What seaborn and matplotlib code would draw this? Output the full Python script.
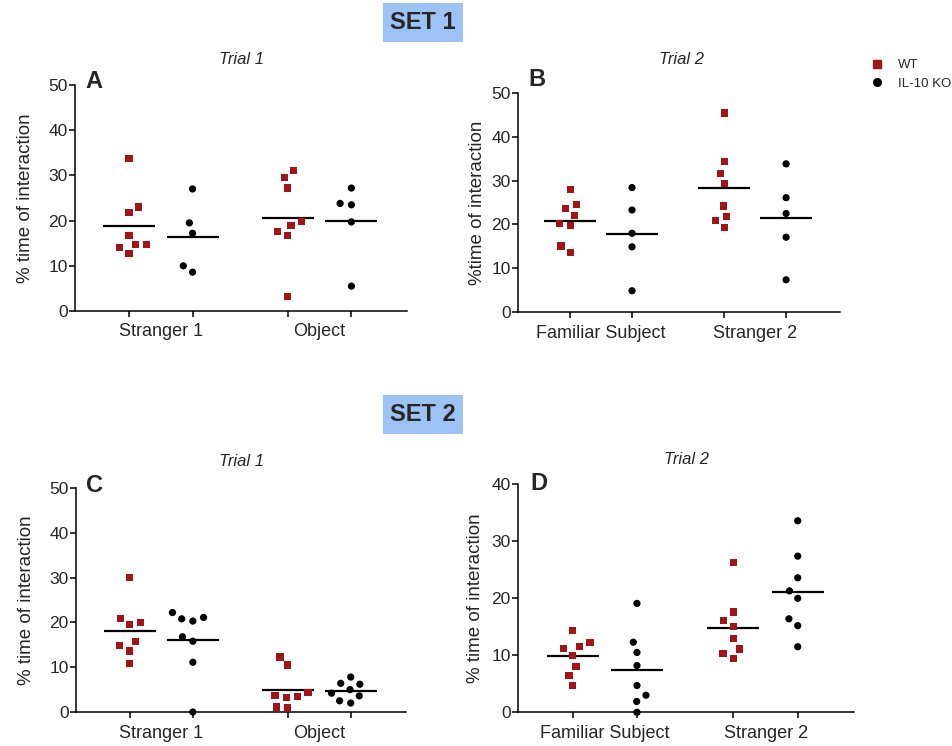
import numpy as np
import pandas as pd
import matplotlib
matplotlib.use("Agg")
import matplotlib.pyplot as plt
from matplotlib.lines import Line2D
from matplotlib.patches import Rectangle
import seaborn as sns

sns.set_theme(style="ticks")
plt.rcParams["font.family"] = ["Liberation Sans", "DejaVu Sans"]

genotypes = ["WT", "IL-10 KO"]
colors = {"WT": "#a31418", "IL-10 KO": "#000000"}

# ---- SET 1, Trial 1 (panel A)
a_cats = ["Stranger 1", "Object"]
a_wt = [[33.7, 23.0, 21.8, 16.7, 14.7, 14.0, 14.7, 12.7],
        [31.0, 29.5, 27.2, 19.8, 19.0, 17.6, 16.7, 3.2]]
a_ko = [[27.0, 19.5, 17.2, 10.0, 8.6],
        [27.2, 23.8, 23.5, 19.7, 5.5]]

# ---- SET 1, Trial 2 (panel B)
b_cats = ["Familiar Subject", "Stranger 2"]
b_wt = [[27.9, 24.6, 23.6, 22.0, 20.2, 19.7, 15.1, 13.7],
        [45.4, 34.3, 31.6, 29.3, 24.2, 21.8, 20.9, 19.3]]
b_ko = [[28.4, 23.3, 18.0, 14.9, 4.9],
        [33.8, 26.1, 22.5, 17.1, 7.4]]

# ---- SET 2, Trial 1 (panel C)
c_cats = ["Stranger 1", "Object"]
c_wt = [[30.1, 20.9, 20.0, 19.5, 15.7, 14.8, 13.6, 10.9],
        [12.3, 10.5, 4.4, 3.5, 3.3, 3.6, 0.9, 1.1]]
c_ko = [[22.2, 21.1, 20.8, 20.3, 16.8, 15.8, 11.1, 0.0],
        [7.8, 6.2, 6.4, 5.0, 3.6, 4.2, 2.0, 2.5]]

# ---- SET 2, Trial 2 (panel D)
d_cats = ["Familiar Subject", "Stranger 2"]
d_wt = [[14.3, 12.3, 11.5, 11.2, 10.0, 8.0, 6.5, 4.7],
        [26.3, 17.6, 16.1, 15.1, 12.9, 11.1, 10.3, 9.5]]
d_ko = [[19.1, 12.3, 10.5, 8.2, 4.7, 3.0, 1.9, 0.0],
        [33.6, 27.4, 23.6, 21.3, 20.0, 16.4, 15.2, 11.5]]

W, H = 953, 746
fig = plt.figure(figsize=(W / 100, H / 100), dpi=100)


def fig_box(l, r, top, bottom):
    return [l / W, 1 - bottom / H, (r - l) / W, (bottom - top) / H]


def make_df(cats, wt, ko):
    rows = []
    for c, vals in zip(cats, wt):
        rows += [(c, "WT", v) for v in vals]
    for c, vals in zip(cats, ko):
        rows += [(c, "IL-10 KO", v) for v in vals]
    return pd.DataFrame(rows, columns=["cond", "geno", "val"])


def draw(rect, cats, wt, ko, ymax, ylabel, labelpad):
    ax = fig.add_axes(rect)
    df = make_df(cats, wt, ko)
    for g, m in zip(genotypes, ["s", "o"]):
        sns.swarmplot(data=df[df.geno == g], x="cond", y="val", hue="geno",
                      hue_order=genotypes, order=cats, dodge=True,
                      palette=colors, marker=m, size=5.2, linewidth=2.6,
                      edgecolor="none", legend=False, ax=ax, clip_on=False,
                      zorder=3)
    sns.pointplot(data=df, x="cond", y="val", hue="geno", hue_order=genotypes,
                  order=cats, dodge=0.4, estimator="mean", errorbar=None,
                  markers="_", linestyles="none", palette=["black", "black"],
                  markersize=38, markeredgewidth=1.6, legend=False, ax=ax)
    ax.set_xlim(-0.54, 1.55)
    ax.set_ylim(0, ymax)
    ax.set_yticks(np.arange(0, ymax + 1, 10))
    ax.set_xticks([-0.2, 0.2, 0.8, 1.2])
    ax.set_xticklabels([])
    ax.set_xticks([0, 1], minor=True)
    ax.set_xticklabels(cats, minor=True, fontsize=13)
    ax.tick_params(axis="x", which="minor", length=0, pad=9)
    ax.tick_params(axis="x", which="major", length=4.3, width=1.1, color="black")
    ax.tick_params(axis="y", length=4.3, width=1.1, pad=1, labelsize=12.5,
                   color="black")
    ax.set_xlabel("")
    ax.set_ylabel(ylabel, fontsize=13.5, labelpad=labelpad)
    for s in ["left", "bottom"]:
        ax.spines[s].set_linewidth(1.1)
        ax.spines[s].set_color("black")
    sns.despine(ax=ax)
    return ax


draw(fig_box(75, 407, 85, 311), a_cats, a_wt, a_ko, 50, "% time of interaction", 10.5)
draw(fig_box(518, 840, 92.7, 312.3), b_cats, b_wt, b_ko, 50, "%time of interaction", 4)
draw(fig_box(76, 406, 488, 712), c_cats, c_wt, c_ko, 50, "% time of interaction", 10.5)
draw(fig_box(518, 854, 484.3, 712.3), d_cats, d_wt, d_ko, 40, "% time of interaction", 5)

# panel letters
for x, y, t in [(85, 81, "A"), (528, 80, "B"), (86, 485, "C"), (530, 483, "D")]:
    fig.text(x / W, 1 - y / H, t, fontsize=17, fontweight="bold", va="center", ha="left")

# trial titles
for x, y, t in [(242, 59, "Trial 1"), (682, 59, "Trial 2"),
                (242, 461, "Trial 1"), (687, 460, "Trial 2")]:
    fig.text(x / W, 1 - y / H, t, fontsize=12, style="italic", va="center", ha="center")

# SET boxes
for y0, y1, t in [(3, 42, "SET 1"), (395, 434, "SET 2")]:
    fig.patches.append(Rectangle((383 / W, 1 - y1 / H), 80 / W, (y1 - y0) / H,
                                 transform=fig.transFigure, facecolor="#9cc3f4",
                                 edgecolor="none", zorder=0))
    fig.text(423 / W, 1 - (y0 + y1) / 2 / H, t, fontsize=17, fontweight="bold",
             ha="center", va="center")

# legend
handles = [Line2D([], [], marker="s", color=colors["WT"], linestyle="none", markersize=5.5),
           Line2D([], [], marker="o", color="black", linestyle="none", markersize=5.5)]
fig.legend(handles, genotypes, loc="upper left", bbox_to_anchor=(870 / W, 1 - 59 / H),
           frameon=False, fontsize=9.5, handletextpad=1.1, labelspacing=0.5,
           handlelength=1.0, borderaxespad=0, borderpad=0)

fig.savefig("out.png", dpi=100)
